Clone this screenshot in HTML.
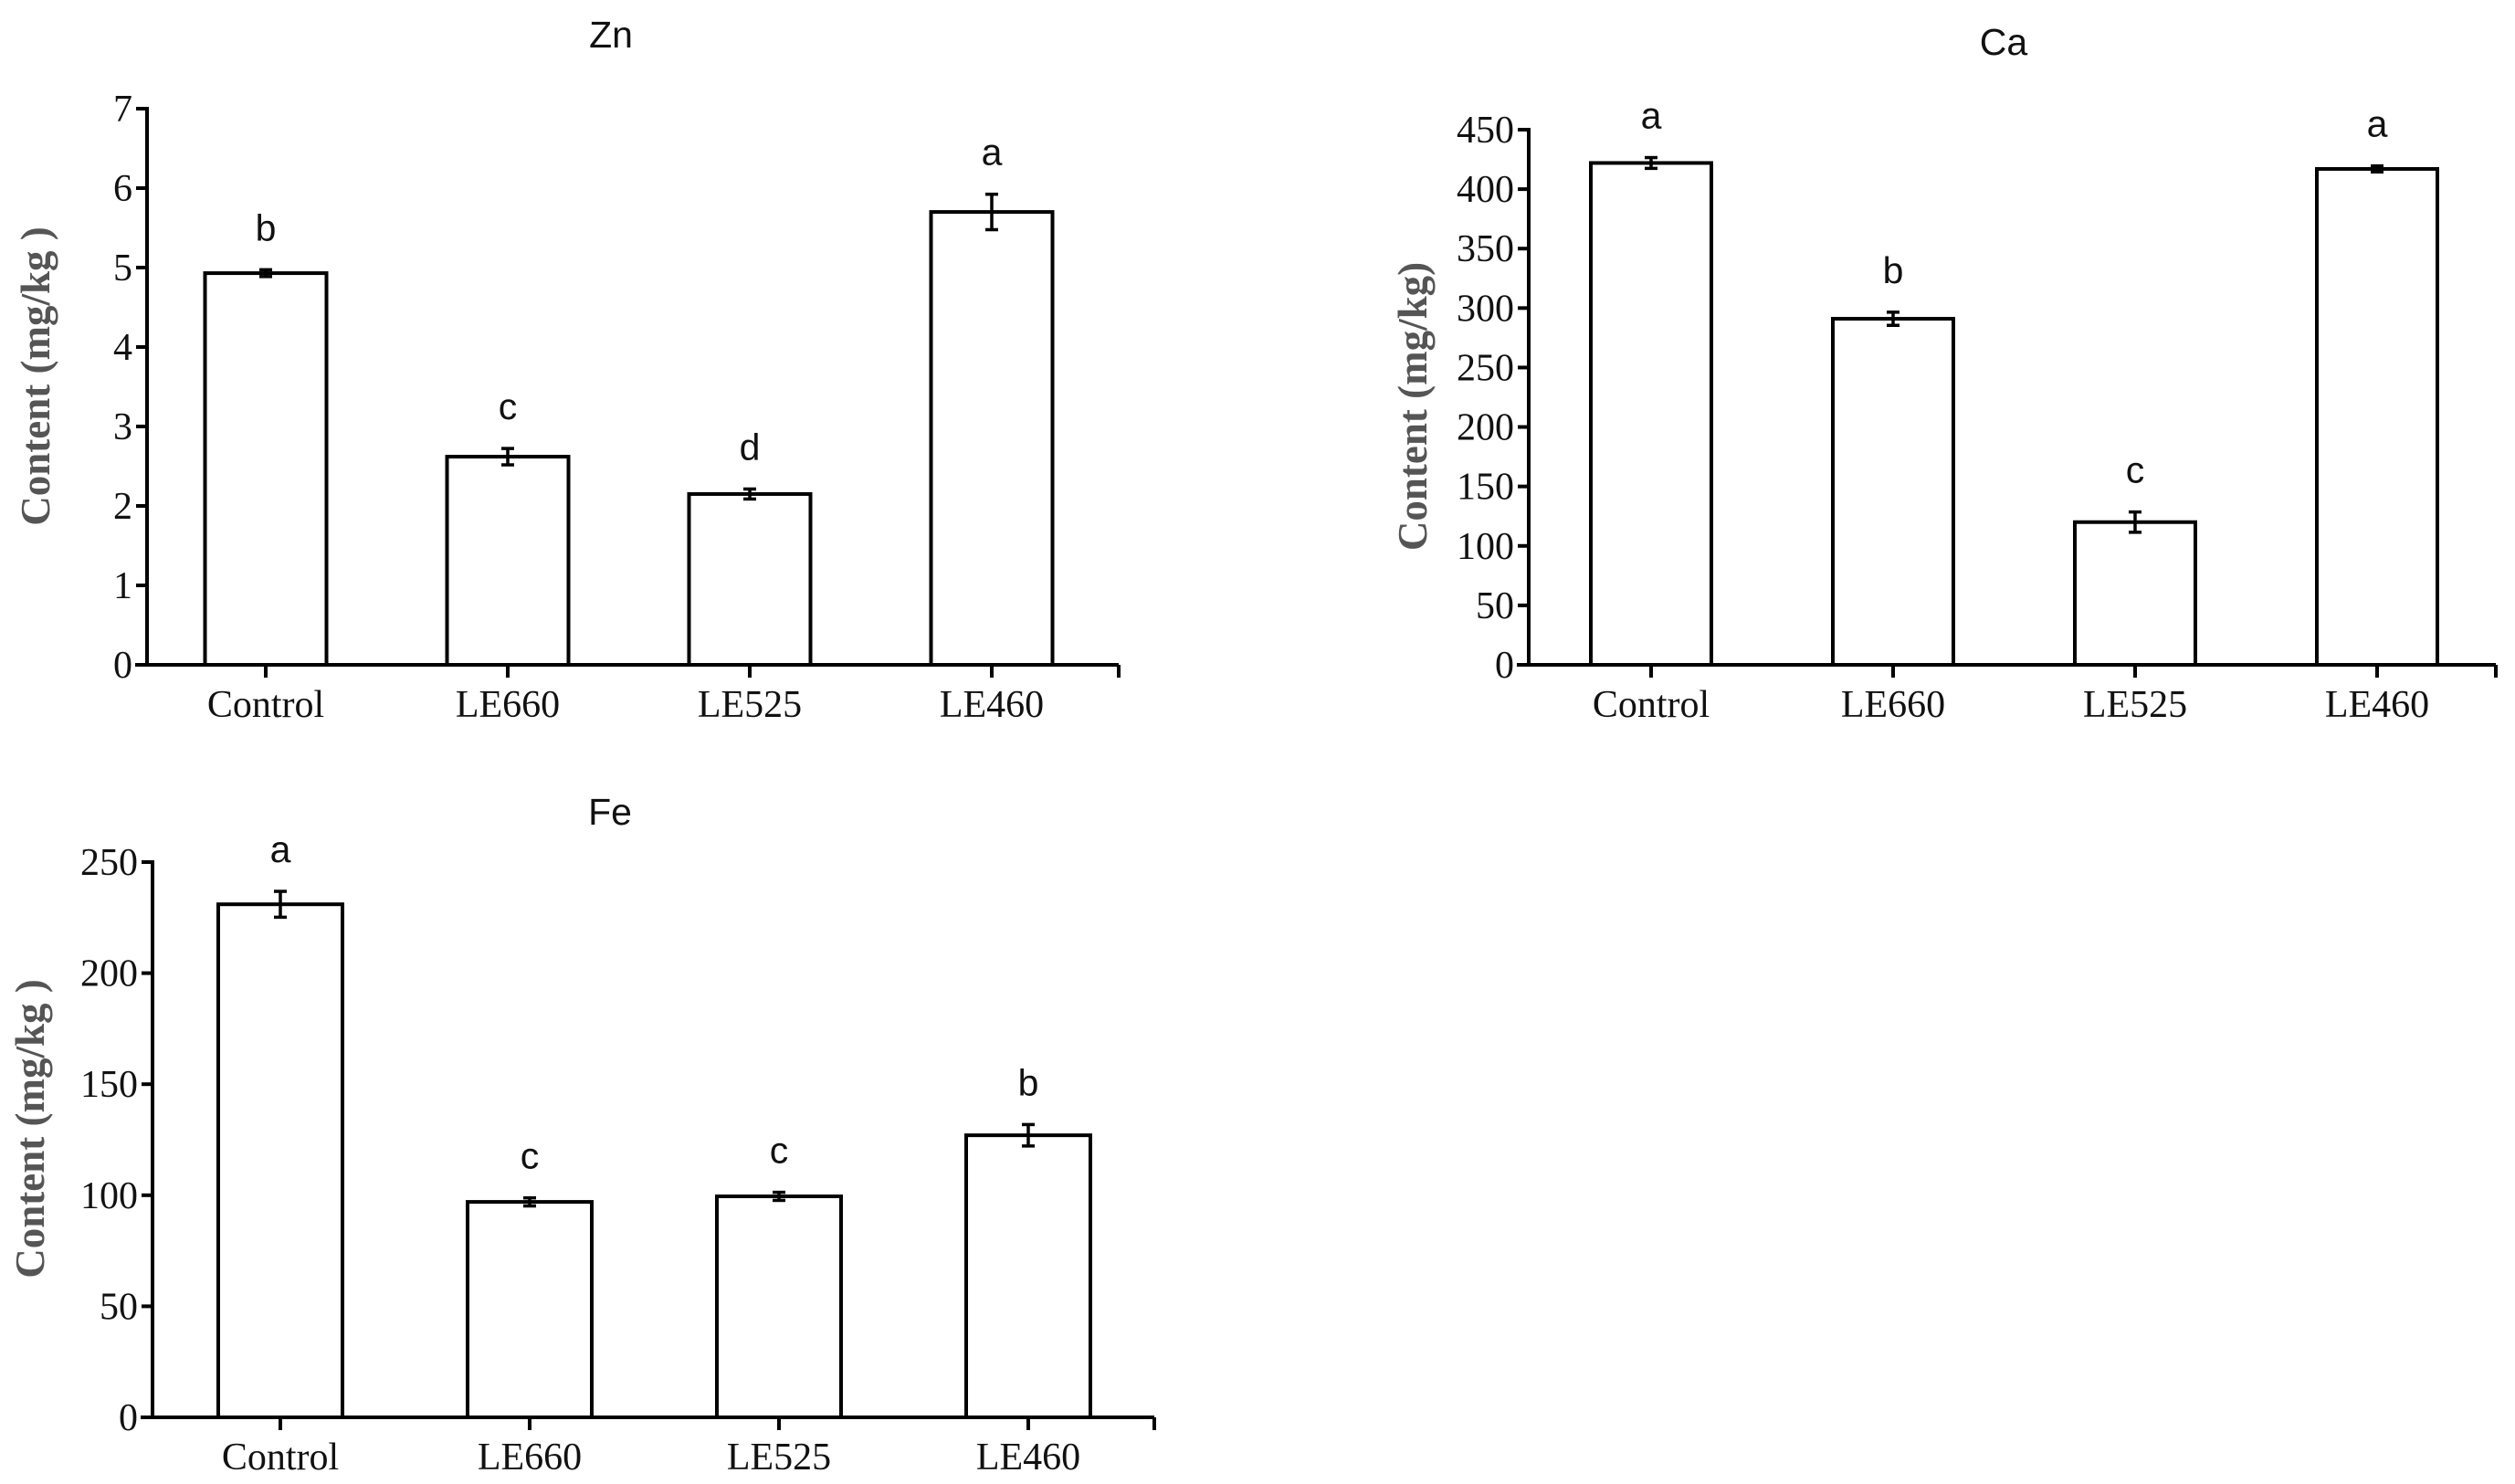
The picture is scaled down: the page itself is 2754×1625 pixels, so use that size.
<!DOCTYPE html>
<html><head><meta charset="utf-8"><style>
html,body{margin:0;padding:0;background:#fff;}
svg{display:block;}
.tick{font-family:"Liberation Serif",serif;font-size:42px;fill:#111;}
.ttl{font-family:"Liberation Sans",sans-serif;font-size:41px;fill:#111;}
.ytitle{font-family:"Liberation Serif",serif;font-size:45px;fill:#555;font-weight:bold;}
</style></head><body>
<svg id="fig" width="2754" height="1625" viewBox="0 0 2754 1625" xmlns="http://www.w3.org/2000/svg"></svg>
<script>
const categories = ["Control","LE660","LE525","LE460"];
const znValues = [4.93, 2.62, 2.15, 5.70];
const znErrors = [0.02, 0.08, 0.04, 0.20];
const znLetters = ["b","c","d","a"];
const znTicks = [0,1,2,3,4,5,6,7];
const caValues = [422, 291, 120, 417];
const caErrors = [3, 4, 7, 1];
const caLetters = ["a","b","c","a"];
const caTicks = [0,50,100,150,200,250,300,350,400,450];
const feValues = [231, 97, 99.5, 127];
const feErrors = [5, 1, 1, 4];
const feLetters = ["a","c","c","b"];
const feTicks = [0,50,100,150,200,250];

const NS = "http://www.w3.org/2000/svg";
const svg = document.getElementById('fig');
function mk(tag, attrs, parent){const e=document.createElementNS(NS,tag);for(const k in attrs)e.setAttribute(k,attrs[k]);(parent||svg).appendChild(e);return e;}

function panel(cfg){
  const g = mk('g',{});
  
  
  const maxT = cfg.ticks[cfg.ticks.length-1];
  const y = v => cfg.y0 - (v/maxT)*(cfg.y0-cfg.yTop);
  const step = (cfg.cx[1]-cfg.cx[0]);
  const x = i => cfg.cx[0] + i*step;
  const t = mk('text',{x:cfg.titleX,y:cfg.titleY,'text-anchor':'middle',class:'ttl'},g);
  t.textContent = cfg.title;
  
  
  const yt = mk('text',{x:0,y:0,'text-anchor':'middle',class:'ytitle',transform:`translate(${cfg.ytX},${cfg.ytY}) rotate(-90)`},g);
  yt.textContent = cfg.ytitle;
  
  
  cfg.values.forEach((v,i)=>{
    const r = mk('rect',{x:x(i)-cfg.bw/2,y:y(v),width:cfg.bw,height:cfg.y0-y(v),fill:'#fff',stroke:'#000','stroke-width':4},g);
    
    
    const e = cfg.errors[i];
    const eg = mk('g',{stroke:'#000','stroke-width':3.5},g);
    
    
    mk('line',{x1:x(i),x2:x(i),y1:y(v+e)-2,y2:y(v-e)+2},eg);
    mk('line',{x1:x(i)-7,x2:x(i)+7,y1:y(v+e)-2,y2:y(v+e)-2},eg);
    mk('line',{x1:x(i)-7,x2:x(i)+7,y1:y(v-e)+2,y2:y(v-e)+2},eg);
    const l = mk('text',{x:x(i),y:y(v+e)-34,'text-anchor':'middle',class:'ttl'},g);
    l.textContent = cfg.letters[i];
    
    
  });
  const ax = mk('g',{stroke:'#000','stroke-width':4},g);
  
  
  mk('line',{x1:cfg.ax,x2:cfg.ax,y1:cfg.yTop-2,y2:cfg.y0},ax);
  mk('line',{x1:cfg.xL,x2:cfg.xR,y1:cfg.y0,y2:cfg.y0},ax);
  mk('line',{x1:cfg.xR,x2:cfg.xR,y1:cfg.y0,y2:cfg.y0+14},ax);
  cfg.ticks.forEach(tv=>{
    mk('line',{x1:cfg.ax-12,x2:cfg.ax,y1:y(tv),y2:y(tv)},ax);
    const tl = mk('text',{x:cfg.ax-16,y:y(tv)+14,'text-anchor':'end',class:'tick'},g);
    tl.textContent = tv;
    
    
  });
  categories.forEach((c,i)=>{
    mk('line',{x1:x(i),x2:x(i),y1:cfg.y0,y2:cfg.y0+14},ax);
    const cl = mk('text',{x:x(i),y:cfg.y0+57,'text-anchor':'middle',class:'tick'},g);
    cl.textContent = c;
    
    
  });
}

panel({name:'zn',title:'Zn',titleX:669,titleY:52,values:znValues,errors:znErrors,letters:znLetters,ticks:znTicks,
  y0:728,yTop:119,ax:161,xL:148,xR:1225,cx:[291,556,822,1087],bw:133,ytitle:'Content (mg/kg  )',ytX:54,ytY:412});
panel({name:'ca',title:'Ca',titleX:2194,titleY:60,values:caValues,errors:caErrors,letters:caLetters,ticks:caTicks,
  y0:728,yTop:142,ax:1674,xL:1661,xR:2733,cx:[1808,2073,2338,2603],bw:132,ytitle:'Content (mg/kg)',ytX:1562,ytY:445});
panel({name:'fe',title:'Fe',titleX:668,titleY:903,values:feValues,errors:feErrors,letters:feLetters,ticks:feTicks,
  y0:1552,yTop:944,ax:167,xL:154,xR:1264,cx:[307,580,852,1125],bw:136,ytitle:'Content (mg/kg  )',ytX:48,ytY:1236});
</script>
</body></html>
